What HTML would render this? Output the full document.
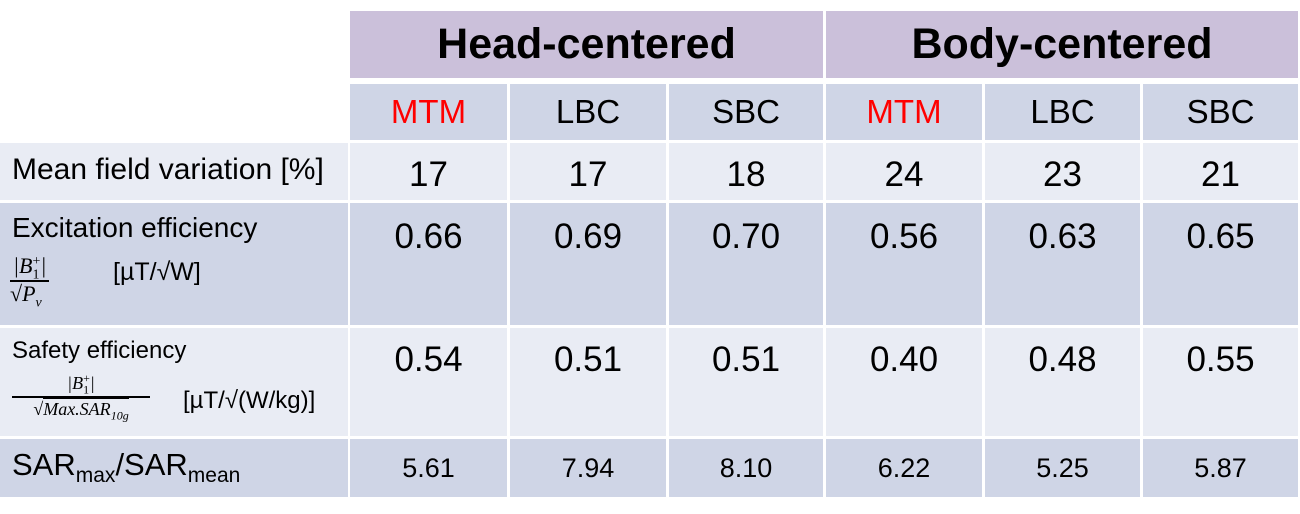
<!DOCTYPE html>
<html><head><style>
body{margin:0;width:1300px;height:514px;background:#fff;position:relative;font-family:"Liberation Sans",sans-serif;overflow:hidden}
.c{position:absolute;display:flex;align-items:center;justify-content:center;color:#000}
.p{background:#cbc0da}.b{background:#cfd5e6}.l{background:#e9ecf4}
.h{font-weight:bold;font-size:43px}
.s{font-size:33px}
.n{font-size:35px}
.t{align-items:flex-start}
.abs{position:absolute;color:#000;white-space:nowrap}
.m{font-family:"Liberation Serif",serif;font-style:italic}
sub,sup{line-height:0}
</style></head><body>
<div class="c p h" style="left:350px;top:11px;width:473px;height:67px">Head-centered</div>
<div class="c p h" style="left:826px;top:11px;width:472px;height:67px">Body-centered</div>

<div class="c b s" style="left:350px;top:84px;width:157px;height:56px;color:#f00">MTM</div>
<div class="c b s" style="left:510px;top:84px;width:156px;height:56px">LBC</div>
<div class="c b s" style="left:669px;top:84px;width:154px;height:56px">SBC</div>
<div class="c b s" style="left:826px;top:84px;width:156px;height:56px;color:#f00">MTM</div>
<div class="c b s" style="left:985px;top:84px;width:155px;height:56px">LBC</div>
<div class="c b s" style="left:1143px;top:84px;width:155px;height:56px">SBC</div>

<!-- row3 -->
<div class="c l" style="left:0;top:143px;width:348px;height:57px;justify-content:flex-start;font-size:30px"><span style="margin-left:12px;margin-top:-4px">Mean field variation [%]</span></div>
<div class="c l n" style="left:350px;top:143px;width:157px;height:57px;padding-top:6px;box-sizing:border-box">17</div>
<div class="c l n" style="left:510px;top:143px;width:156px;height:57px;padding-top:6px;box-sizing:border-box">17</div>
<div class="c l n" style="left:669px;top:143px;width:154px;height:57px;padding-top:6px;box-sizing:border-box">18</div>
<div class="c l n" style="left:826px;top:143px;width:156px;height:57px;padding-top:6px;box-sizing:border-box">24</div>
<div class="c l n" style="left:985px;top:143px;width:155px;height:57px;padding-top:6px;box-sizing:border-box">23</div>
<div class="c l n" style="left:1143px;top:143px;width:155px;height:57px;padding-top:6px;box-sizing:border-box">21</div>

<!-- row4 -->
<div class="c b" style="left:0;top:203px;width:348px;height:122px"></div>
<div class="abs" style="left:12px;top:212px;font-size:28px">Excitation efficiency</div>
<div class="abs m" style="left:10px;top:254px;font-size:22px;line-height:24px">
<div style="border-bottom:2px solid #000;padding:0 3px 2px">|B<sub style="font-size:14px;font-style:normal">1</sub><sup style="font-size:14px;font-style:normal;margin-left:-7px">+</sup>|</div>
<div>√<span style="border-top:1px solid #000">P<sub style="font-size:14px">v</sub></span></div></div>
<div class="abs" style="left:113px;top:258px;font-size:25px">[µT/√W]</div>
<div class="c b n t" style="left:350px;top:203px;width:157px;height:122px;padding-top:14px;box-sizing:border-box">0.66</div>
<div class="c b n t" style="left:510px;top:203px;width:156px;height:122px;padding-top:14px;box-sizing:border-box">0.69</div>
<div class="c b n t" style="left:669px;top:203px;width:154px;height:122px;padding-top:14px;box-sizing:border-box">0.70</div>
<div class="c b n t" style="left:826px;top:203px;width:156px;height:122px;padding-top:14px;box-sizing:border-box">0.56</div>
<div class="c b n t" style="left:985px;top:203px;width:155px;height:122px;padding-top:14px;box-sizing:border-box">0.63</div>
<div class="c b n t" style="left:1143px;top:203px;width:155px;height:122px;padding-top:14px;box-sizing:border-box">0.65</div>

<!-- row5 -->
<div class="c l" style="left:0;top:328px;width:348px;height:108px"></div>
<div class="abs" style="left:12px;top:337px;font-size:24px">Safety efficiency</div>
<div class="abs m" style="left:12px;top:372px;font-size:18px;line-height:22px;width:138px;text-align:center">
<div style="border-bottom:2px solid #000;padding-bottom:2px">|B<sub style="font-size:12px;font-style:normal">1</sub><sup style="font-size:12px;font-style:normal;margin-left:-6px">+</sup>|</div>
<div>√<span style="border-top:1px solid #000">Max.SAR<sub style="font-size:12px">10g</sub></span></div></div>
<div class="abs" style="left:183px;top:387px;font-size:24px">[µT/√(W/kg)]</div>
<div class="c l n t" style="left:350px;top:328px;width:157px;height:108px;padding-top:12px;box-sizing:border-box">0.54</div>
<div class="c l n t" style="left:510px;top:328px;width:156px;height:108px;padding-top:12px;box-sizing:border-box">0.51</div>
<div class="c l n t" style="left:669px;top:328px;width:154px;height:108px;padding-top:12px;box-sizing:border-box">0.51</div>
<div class="c l n t" style="left:826px;top:328px;width:156px;height:108px;padding-top:12px;box-sizing:border-box">0.40</div>
<div class="c l n t" style="left:985px;top:328px;width:155px;height:108px;padding-top:12px;box-sizing:border-box">0.48</div>
<div class="c l n t" style="left:1143px;top:328px;width:155px;height:108px;padding-top:12px;box-sizing:border-box">0.55</div>

<!-- row6 -->
<div class="c b" style="left:0;top:439px;width:348px;height:58px;justify-content:flex-start;font-size:31px"><span style="margin-left:12px;margin-top:-6px">SAR<sub style="font-size:21px">max</sub>/SAR<sub style="font-size:21px">mean</sub></span></div>
<div class="c b" style="left:350px;top:439px;width:157px;height:58px;font-size:27px">5.61</div>
<div class="c b" style="left:510px;top:439px;width:156px;height:58px;font-size:27px">7.94</div>
<div class="c b" style="left:669px;top:439px;width:154px;height:58px;font-size:27px">8.10</div>
<div class="c b" style="left:826px;top:439px;width:156px;height:58px;font-size:27px">6.22</div>
<div class="c b" style="left:985px;top:439px;width:155px;height:58px;font-size:27px">5.25</div>
<div class="c b" style="left:1143px;top:439px;width:155px;height:58px;font-size:27px">5.87</div>
</body></html>
